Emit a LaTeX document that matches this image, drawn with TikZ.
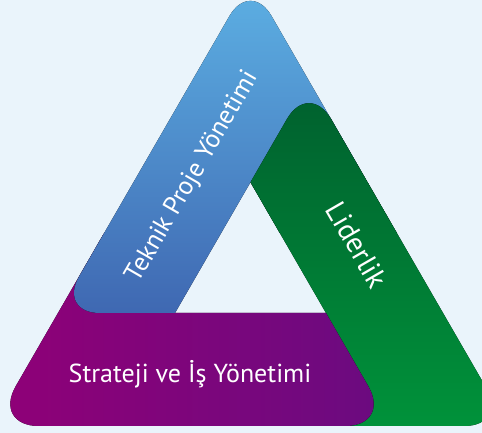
\documentclass[tikz,border=0pt]{standalone}
\usepackage{fontspec}
\setmainfont{PT Sans}
\usetikzlibrary{calc}
\definecolor{pagebg}{HTML}{EAF4FB}
\definecolor{blueTop}{HTML}{5DB1E4}
\definecolor{blueBot}{HTML}{3F68B2}
\definecolor{greenTop}{HTML}{005F2E}
\definecolor{greenBot}{HTML}{00923A}
\definecolor{purpleL}{HTML}{900077}
\definecolor{purpleR}{HTML}{6A0B80}

\begin{document}
\begin{tikzpicture}[x=1pt,y=1pt,
    bandtext/.style={text=white,inner sep=0pt,font=\fontsize{26}{30}\selectfont}]
% page
\fill[pagebg] (0,0) rectangle (482,433);
\useasboundingbox (0,0) rectangle (482,433);
% outer and inner triangle
\coordinate (A) at (250.5,453.4);
\coordinate (BL) at (-7.25,7);
\coordinate (BR) at (508.25,7);
\coordinate (I) at (250.5,250.8);
\coordinate (IL) at (175,120);
\coordinate (IR) at (326,120);
% where the bands end
\coordinate (T) at (intersection of IL--I and BR--A);
\coordinate (LB) at (intersection of BL--A and IL--IR);
\coordinate (PR) at (intersection of IR--I and BL--BR);
\coordinate (PL) at (intersection of BL--A and 0,200--400,200);
\coordinate (Q) at ($(BR)!0.58!(A)$);
\coordinate (G) at (330,7);
% Liderlik (green)
\fill[top color=greenTop,bottom color=greenBot]
  (I) -- (IR) -- (G) [rounded corners=44pt] -- (BR) -- (T) [sharp corners] -- cycle;
% Strateji ve Is Yonetimi (purple)
\fill[left color=purpleL,middle color=purpleL,right color=purpleR]
  (IR) -- (150,120) -- (130,200) -- (PL) [rounded corners=46pt] -- (BL) -- (PR) [sharp corners] -- cycle;
% Teknik Proje Yonetimi (blue)
\fill[top color=blueTop,bottom color=blueBot]
  (IL) -- (I) -- (Q) [rounded corners=42pt] -- (A) -- (LB) [sharp corners] -- cycle;
% green again on top of the blue
\begin{scope}
  \clip (0,200) rectangle (482,433);
  \fill[top color=greenTop,bottom color=greenBot]
    (I) -- (IR) -- (G) [rounded corners=44pt] -- (BR) -- (T) [sharp corners] -- cycle;
\end{scope}
% labels
\node[bandtext,rotate=60] (tpy) at (193,256) {Teknik Proje Yönetimi};
\node[bandtext,rotate=-60,font=\fontsize{29}{33}\selectfont] (lid) at (357,188) {Liderlik};
\node[bandtext,anchor=base] (siy) at (190,50) {Strateji ve İş Yönetimi};
\end{tikzpicture}
\end{document}
